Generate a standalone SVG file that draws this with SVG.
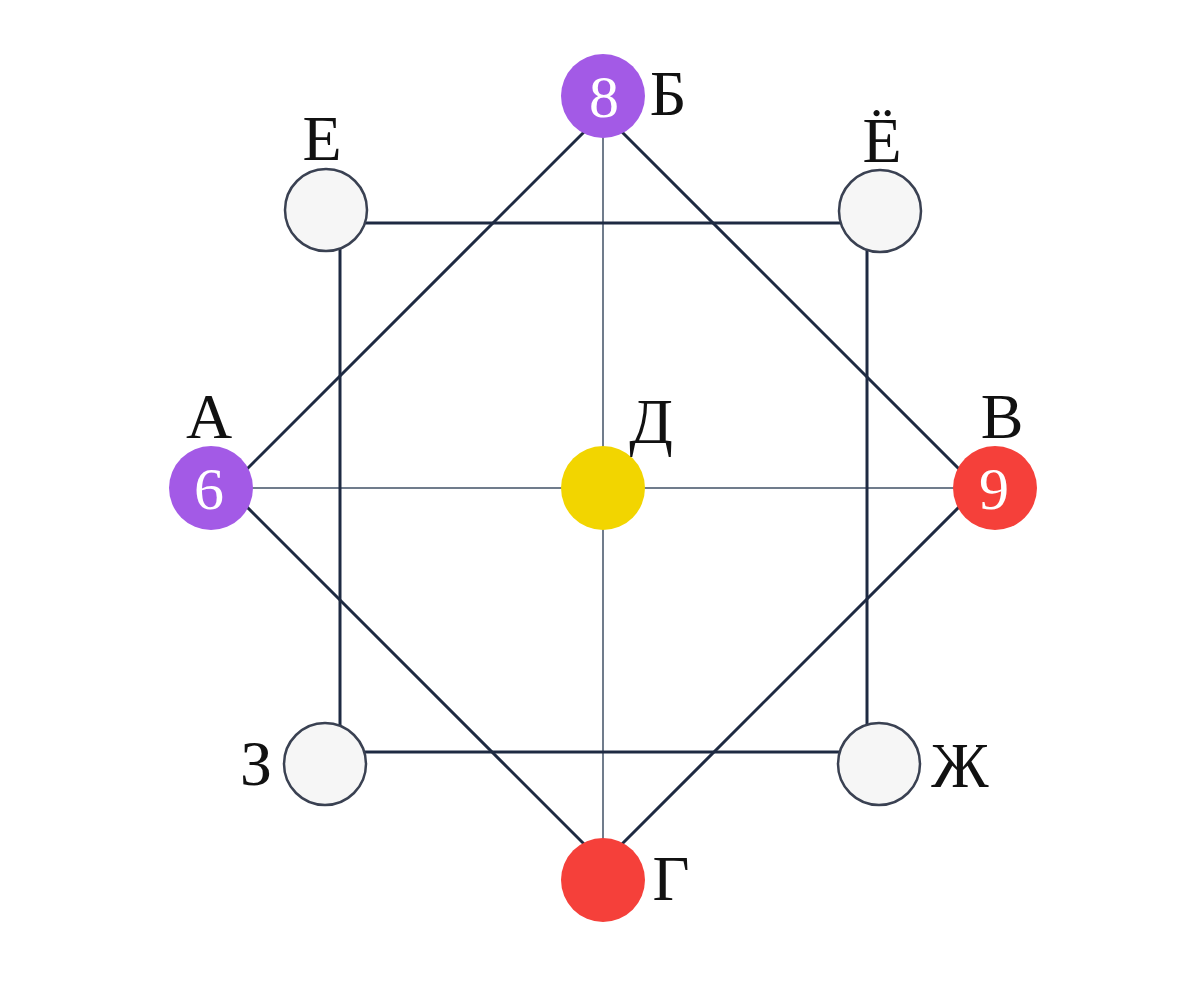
<svg xmlns="http://www.w3.org/2000/svg" width="1200" height="983" viewBox="0 0 1200 983">
<style>
.lbl{font-family:"Liberation Serif","DejaVu Serif",serif;font-size:64px;fill:#111;text-anchor:middle}
.num{font-family:"Liberation Serif","DejaVu Serif",serif;font-size:60px;fill:#fff;text-anchor:middle}
.empty{fill:#f6f6f6;stroke:#3a4152;stroke-width:2.5}
.thick{fill:none;stroke:#1e2a42;stroke-width:3}
.thin{fill:none;stroke:#415066;stroke-width:1.5}
</style>
<rect width="1200" height="983" fill="#fff"/>
<g id="connectors">
<line class="thin" x1="603" y1="96" x2="603" y2="880"/>
<line class="thin" x1="211" y1="488" x2="995" y2="488"/>
<rect class="thick" x="340" y="223" width="527" height="529"/>
<polygon class="thick" points="228,488 603,113 978,488 603,863"/>
</g>
<g id="node-B6">
<circle cx="603" cy="96" r="42" fill="#a35ae6"/>
<text class="num" x="604" y="117">8</text>
<text class="lbl" x="668" y="115">Б</text>
</g>
<g id="node-E">
<circle class="empty" cx="326" cy="210" r="41"/>
<text class="lbl" x="322" y="160">Е</text>
</g>
<g id="node-Yo">
<circle class="empty" cx="880" cy="211" r="41"/>
<text class="lbl" x="882" y="162">Ё</text>
</g>
<g id="node-A">
<circle cx="211" cy="488" r="42" fill="#a35ae6"/>
<text class="num" x="209" y="509">6</text>
<text class="lbl" x="209" y="438">А</text>
</g>
<g id="node-D">
<circle cx="603" cy="488" r="42" fill="#f2d500"/>
<text class="lbl" x="651" y="443">Д</text>
</g>
<g id="node-V">
<circle cx="995" cy="488" r="42" fill="#f5403a"/>
<text class="num" x="994" y="509">9</text>
<text class="lbl" x="1002" y="438">В</text>
</g>
<g id="node-Z">
<circle class="empty" cx="325" cy="764" r="41"/>
<text class="lbl" x="256" y="785">З</text>
</g>
<g id="node-Zh">
<circle class="empty" cx="879" cy="764" r="41"/>
<text class="lbl" x="960" y="787">Ж</text>
</g>
<g id="node-G">
<circle cx="603" cy="880" r="42" fill="#f5403a"/>
<text class="lbl" x="671" y="900">Г</text>
</g>
</svg>
